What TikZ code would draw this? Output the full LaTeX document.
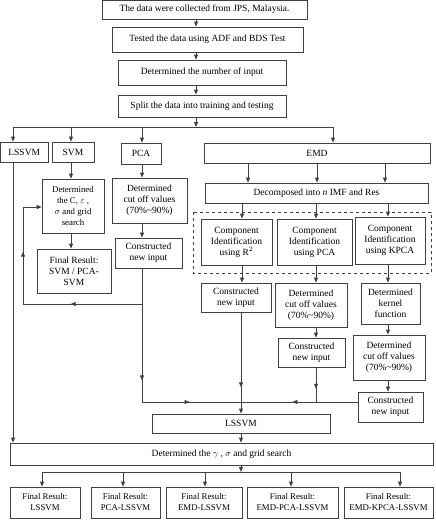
\documentclass[tikz,border=0pt]{standalone}
\usepackage{fontspec}
\setmainfont{Liberation Serif}
\usetikzlibrary{arrows.meta,decorations.markings}
\newcommand{\bx}[7][]{\node[box,#1,minimum width={(#4-#2)*1pt},minimum height={(#5-#3)*1pt}] (#7) at ({(#2+#4)/2},{(#3+#5)/2}) {#6};}
\begin{document}
\begin{tikzpicture}[x=1pt,y=-1pt,
  box/.style={draw=black!75,line width=0.8pt,inner sep=0pt,align=center,font=\fontsize{9.5}{11}\selectfont},
  small/.style={font=\fontsize{8.8}{11}\selectfont},
  ln/.style={draw=black!75,line width=0.8pt},
  arr/.style={ln,-{Triangle[length=5pt,width=4pt]}},
  midarr/.style={postaction={decorate},decoration={markings,mark=at position #1 with {\arrow{Triangle[length=5pt,width=4pt]}}}}
]
\useasboundingbox (0,0) rectangle (436,520);

% top chain
\bx{102}{0}{307}{19}{The data were collected from JPS, Malaysia.}{b1}
\bx{112}{27}{303}{52}{Tested the data using ADF and BDS Test}{b2}
\bx{118}{60}{286}{85}{Determined the number of input}{b3}
\bx{118}{95}{286}{117}{Split the data into training and testing}{b4}

% method row
\bx{0.5}{142}{48}{162}{LSSVM}{lssvmA}
\bx{52}{142}{94}{162}{SVM}{svm}
\bx{121}{143}{161}{164}{PCA}{pca}
\bx{204}{143}{430}{163}{EMD}{emd}

% SVM / PCA columns
\bx[small]{42}{179}{104}{233}{Determined\\the C, $\varepsilon$ ,\\$\sigma$ and grid\\search}{detc}
\bx{37}{249}{111}{293}{Final Result:\\SVM / PCA-\\SVM}{fsvm}
\bx{112}{178}{187}{223}{Determined\\cut off values\\(70\%\char`~90\%)}{pcacut}
\bx{115}{238}{182}{268}{Constructed\\new input}{pcacon}

% EMD column
\bx{205}{183}{428}{203}{Decomposed into \textit{n} IMF and Res}{dec}
\draw[draw=black!75,line width=0.7pt,dashed] (193,212) rectangle (431,273);
\bx{201}{219}{272}{265}{Component\\Identification\\using R$^2$}{cr2}
\bx{277}{219}{352}{265}{Component\\Identification\\using PCA}{cpca}
\bx{355}{217}{425}{264}{Component\\Identification\\using KPCA}{ckpca}
\bx{201}{283}{271}{312}{Constructed\\new input}{r2con}
\bx{275}{283}{347}{327}{Determined\\cut off values\\(70\%\char`~90\%)}{pcacutB}
\bx{361}{283}{420}{324}{Determined\\kernel\\function}{kern}
\bx{278}{338}{345}{367}{Constructed\\new input}{pcaconB}
\bx{353}{335}{425}{380}{Determined\\cut off values\\(70\%\char`~90\%)}{kcut}
\bx{358}{392}{423}{422}{Constructed\\new input}{kcon}

% bottom
\bx{152}{414}{330}{433}{LSSVM}{lssvmB}
\bx{10}{443}{433}{465}{Determined the $\gamma$ , $\sigma$ and grid search}{grid}
\bx[small]{10}{487}{80}{518}{Final Result:\\LSSVM}{f1}
\bx[small]{91}{487}{160}{518}{Final Result:\\PCA-LSSVM}{f2}
\bx[small]{166}{487}{242}{518}{Final Result:\\EMD-LSSVM}{f3}
\bx[small]{247}{487}{338}{518}{Final Result:\\EMD-PCA-LSSVM}{f4}
\bx[small]{344}{487}{433}{518}{Final Result:\\EMD-KPCA-LSSVM}{f5}

% coordinates
\coordinate (vx) at (196,0);
\coordinate (bus) at (196,127);
\coordinate (busL) at (13,127);
\coordinate (busR) at (333,127);
\coordinate (xs) at (71,127);
\coordinate (xp) at (142,127);
\coordinate (e1) at (248,0);
\coordinate (e2) at (317,0);
\coordinate (e3) at (385,0);
\coordinate (c1) at (242,0);
\coordinate (c2) at (316,0);
\coordinate (c3) at (388,0);
\coordinate (J1) at (142,304);
\coordinate (L1) at (23,304);
\coordinate (L2) at (23,207);
\coordinate (J2) at (142,402);
\coordinate (J3) at (241,402);
\coordinate (J4) at (316,402);
\coordinate (gb) at (241,472);
\coordinate (gL) at (42,472);
\coordinate (gR) at (400,472);
\coordinate (g2) at (123,472);
\coordinate (g3) at (205,472);
\coordinate (g4) at (291,472);

% top arrows
\draw[arr] (b1.south -| vx) -- (b2.north -| vx);
\draw[arr] (b2.south -| vx) -- (b3.north -| vx);
\draw[arr] (b3.south -| vx) -- (b4.north -| vx);
\draw[arr] (b4.south -| vx) -- (bus);
\draw[ln] (busL) -- (busR);
\draw[arr] (busL) -- (lssvmA.north -| busL);
\draw[arr] (xs) -- (svm.north -| xs);
\draw[arr] (xp) -- (pca.north -| xp);
\draw[arr] (busR) -- (emd.north -| busR);

% SVM/PCA columns
\draw[arr] (svm.south -| xs) -- (detc.north -| xs);
\draw[arr] (detc.south -| xs) -- (fsvm.north -| xs);
\draw[arr] (pca.south -| xp) -- (pcacut.north -| xp);
\draw[arr] (pcacut.south -| xp) -- (pcacon.north -| xp);
\draw[ln] (pcacon.south -| xp) -- (J1);
\draw[ln,midarr=0.6] (J1) -- (L1);
\draw[ln,midarr=0.54] (L1) -- (L2);
\draw[arr] (L2) -- (detc.west |- L2);
\draw[ln,midarr=0.78] (J1) -- (J2);
\draw[ln,midarr=0.48] (J2) -- (J3);

% EMD
\draw[arr] (emd.south -| e1) -- (dec.north -| e1);
\draw[arr] (emd.south -| e2) -- (dec.north -| e2);
\draw[arr] (emd.south -| e3) -- (dec.north -| e3);
\draw[arr] (dec.south -| c1) -- (cr2.north -| c1);
\draw[arr] (dec.south -| c2) -- (cpca.north -| c2);
\draw[arr] (dec.south -| c3) -- (ckpca.north -| c3);
\draw[arr] (cr2.south -| c1) -- (r2con.north -| c1);
\draw[arr] (cpca.south -| c2) -- (pcacutB.north -| c2);
\draw[arr] (pcacutB.south -| c2) -- (pcaconB.north -| c2);
\draw[arr] (ckpca.south -| c3) -- (kern.north -| c3);
\draw[arr] (kern.south -| c3) -- (kcut.north -| c3);
\draw[arr] (kcut.south -| c3) -- (kcon.north -| c3);
\draw[arr,midarr=0.74] (r2con.south -| J3) -- (lssvmB.north -| J3);
\draw[ln,midarr=0.62] (pcaconB.south -| J4) -- (J4);
\draw[ln,midarr=0.56] (kcon.west |- J4) -- (J3);

% bottom
\draw[arr] (lssvmA.south -| busL) -- (grid.north -| busL);
\draw[arr] (lssvmB.south -| gb) -- (grid.north -| gb);
\draw[arr] (grid.south -| gb) -- (gb);
\draw[ln] (gL) -- (gR);
\draw[arr] (gL) -- (f1.north -| gL);
\draw[arr] (g2) -- (f2.north -| g2);
\draw[arr] (g3) -- (f3.north -| g3);
\draw[arr] (g4) -- (f4.north -| g4);
\draw[arr] (gR) -- (f5.north -| gR);
\end{tikzpicture}
\end{document}
